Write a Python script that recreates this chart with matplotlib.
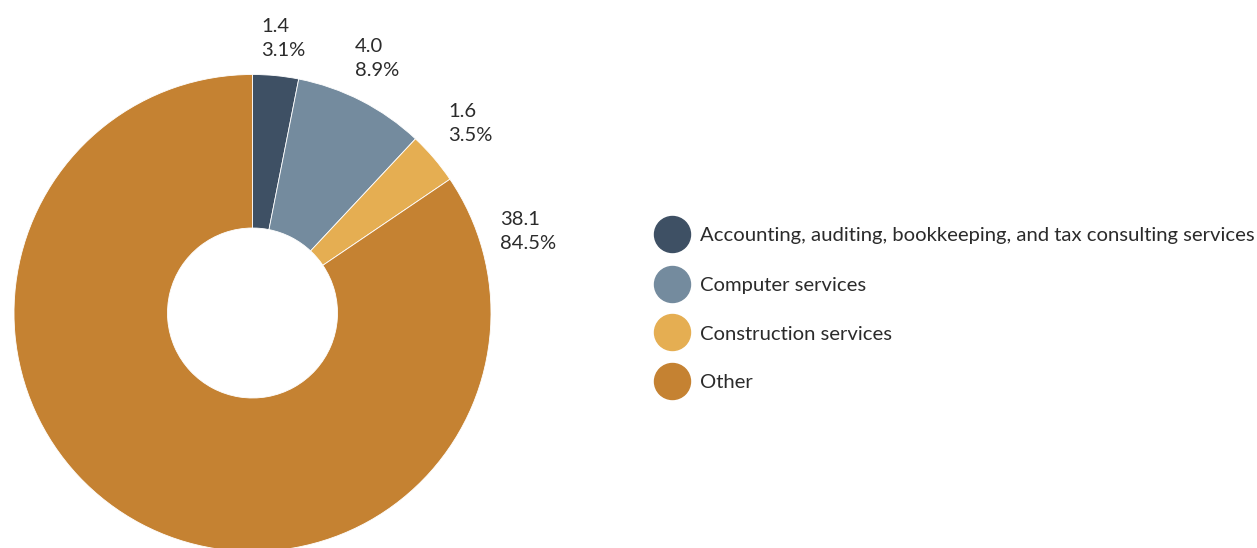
import matplotlib.pyplot as plt

plt.rcParams['font.family'] = ['Lato', 'DejaVu Sans']

# Donut slices
categories = ["Accounting, auditing, bookkeeping, and tax consulting services",
              "Computer services",
              "Construction services",
              "Other"]
values = [1.4, 4.0, 1.6, 38.1]
percents = [3.1, 8.9, 3.5, 84.5]
colors = ["#3e5064", "#748b9e", "#e5ae52", "#c58232"]

W, H = 1257, 548
fig = plt.figure(figsize=(W / 100, H / 100), dpi=100)
ax = fig.add_axes([0, 0, 1, 1])

# pixel layout (y measured from the top of the image)
cx, cy = 252.5, H - 313
r_out, r_in = 238.5, 85

ax.pie(values, colors=colors, startangle=90, counterclock=False,
       radius=r_out, center=(cx, cy),
       wedgeprops=dict(width=r_out - r_in, edgecolor="white", linewidth=0.6))

# pie() resets the limits, so set them afterwards
ax.set_xlim(0, W)
ax.set_ylim(0, H)
ax.set_aspect("equal")
ax.axis("off")

# value / share labels next to the slices
label_pos = [(261, 18), (355, 38), (448, 103), (500, 211)]
for (lx, ly), v, p in zip(label_pos, values, percents):
    ax.text(lx, H - ly, f"{v:.1f}\n{p:.1f}%", ha="left", va="top",
            fontsize=14.5, color="#2b2b2b", linespacing=1.5)

# legend on the right
leg_y = [234, 284, 332, 381]
for y, c, name in zip(leg_y, colors, categories):
    ax.scatter([672], [H - y], s=(36 * 0.72) ** 2, color=c, zorder=3)
    ax.text(700, H - y - 2, name, ha="left", va="center", fontsize=14.6, color="#2b2b2b")

fig.savefig("out.png", dpi=100)
